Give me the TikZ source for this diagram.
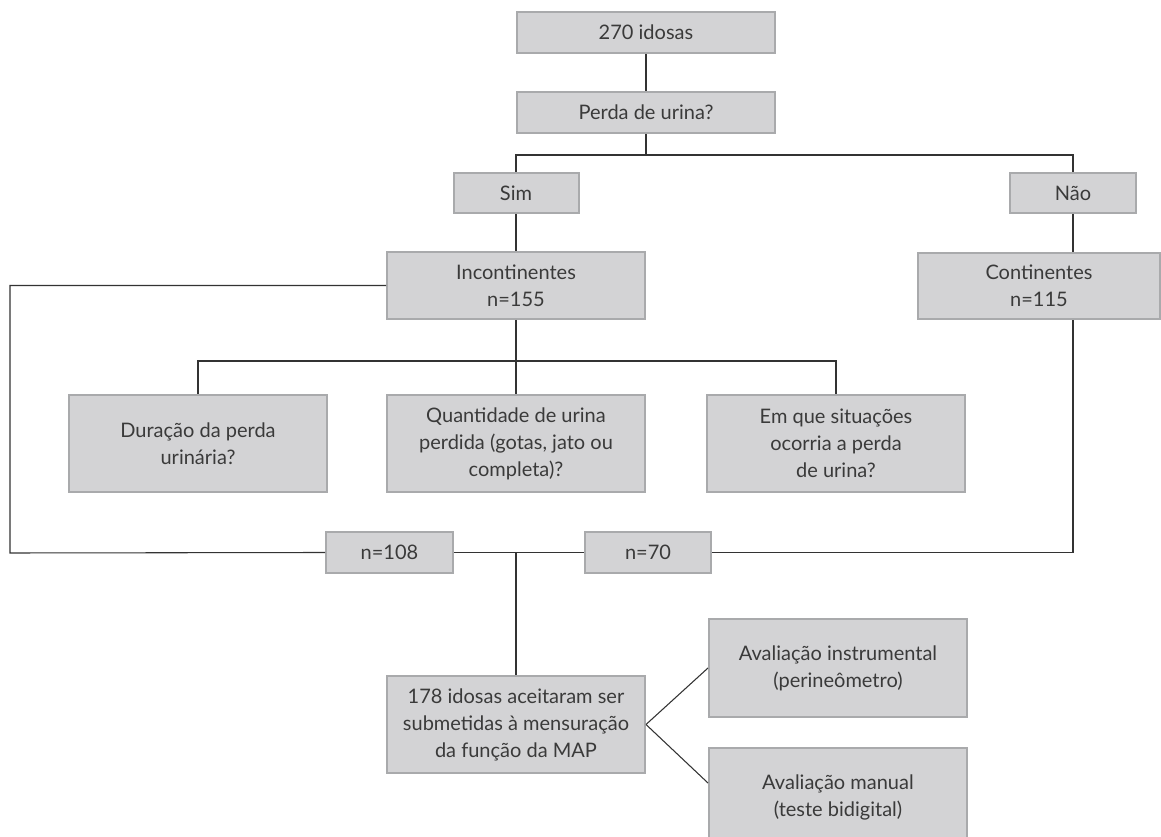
\documentclass[tikz,border=0pt]{standalone}
\usepackage{fontspec}
\setmainfont{Lato}
\usetikzlibrary{positioning}
\definecolor{boxfill}{HTML}{D3D3D5}
\definecolor{boxline}{HTML}{A9AAAC}
\definecolor{txtgray}{HTML}{3A3A3A}
\tikzset{
	box/.style={draw=boxline, line width=1.5pt, fill=boxfill, text=txtgray, align=center, inner sep=0pt,
		font=\fontsize{15}{20.25}\selectfont},
	link/.style={draw=black!80, line width=0.8pt}
}

\begin{document}
\begin{tikzpicture}[x=0.75pt, y=-0.75pt]
	\useasboundingbox (0, 0) rectangle (1161, 837);
	\clip (0, 0) rectangle (1161, 837);
	\node[box, minimum width=193.5pt, minimum height=30.75pt] (total) at (646, 32.5) {270 idosas};
	\node[box, minimum width=193.5pt, minimum height=30.75pt] (perda) at (646, 112.5) {Perda de urina?};
	\node[box, minimum width=93.75pt, minimum height=30pt] (sim) at (516, 193) {Sim};
	\node[box, minimum width=94.5pt, minimum height=30pt] (nao) at (1073, 193) {Não};
	\node[box, minimum width=193.5pt, minimum height=50.25pt] (incont) at (516, 285.5) {Incontinentes\\n=155};
	\node[box, minimum width=181.5pt, minimum height=49.5pt] (cont) at (1039, 286) {Continentes\\n=115};
	\node[box, minimum width=193.5pt, minimum height=72.75pt] (duracao) at (198, 443.5) {Duração da perda\\urinária?};
	\node[box, minimum width=193.5pt, minimum height=72.75pt] (quant) at (516, 443.5) {Quantidade de urina\\perdida (gotas, jato ou\\completa)?};
	\node[box, minimum width=193.5pt, minimum height=72.75pt] (situacao) at (836, 443.5) {Em que situações\\ocorria a perda\\de urina?};
	\node[box, minimum width=95.25pt, minimum height=30.75pt] (nincont) at (389.5, 552.5) {n=108};
	\node[box, minimum width=94.5pt, minimum height=30.75pt] (ncont) at (648, 552.5) {n=70};
	\node[box, minimum width=193.5pt, minimum height=72.75pt] (aceitas) at (516, 724.5) {178 idosas aceitaram ser\\submetidas à mensuração\\da função da MAP};
	\node[box, minimum width=193.5pt, minimum height=73.5pt] (instr) at (838, 668) {Avaliação instrumental\\(perineômetro)};
	\node[box, minimum width=193.5pt, minimum height=73.5pt] (manual) at (838, 797) {Avaliação manual\\(teste bidigital)};
	\coordinate (split1) at (646, 155);
	\coordinate (split2) at (516, 361);
	\coordinate (leftcorner) at (10, 553);
	\draw[link] (total) -- (perda);
	\draw[link] (perda) -- (split1);
	\draw[link] (sim.north) |- (split1) -| (nao.north);
	\draw[link] (sim) -- (incont);
	\draw[link] (nao.south) -- (nao.south |- cont.north);
	\draw[link] (incont.west) -| (leftcorner) -- (nincont.west);
	\draw[link] (incont) -- (split2);
	\draw[link] (duracao.north) |- (split2) -| (situacao.north);
	\draw[link] (quant) -- (split2);
	\draw[link] (nincont) -- (ncont);
	\draw[link] (aceitas.north) -- (aceitas.north |- nincont.east);
	\draw[link] (ncont.east) -| (cont.south -| nao.south);
	\draw[link] (aceitas.east) -- (instr.west);
	\draw[link] (aceitas.east) -- ([yshift=10.5pt]manual.west);
\end{tikzpicture}
\end{document}
